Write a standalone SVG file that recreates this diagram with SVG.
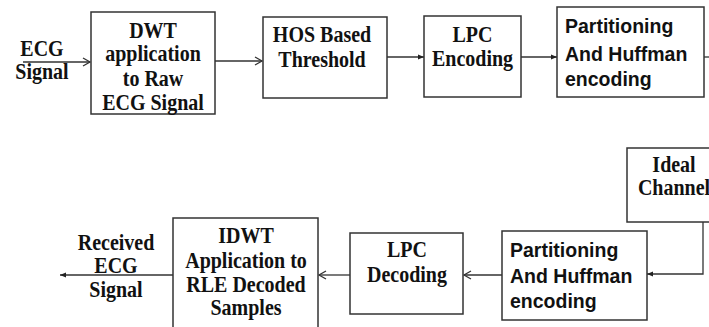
<svg xmlns="http://www.w3.org/2000/svg" width="709" height="327" viewBox="0 0 709 327">
<style>
.box{fill:#fff;stroke:#333;stroke-width:1.5}
.t{font-family:"Liberation Serif","Times New Roman",serif;font-weight:bold;font-size:20px;fill:#111;text-anchor:middle}
.s{font-family:"Liberation Sans",Arial,sans-serif;font-weight:bold;font-size:19.5px;fill:#111}
.c{fill:none;stroke:#333;stroke-width:1.3}
</style>
<defs>
<marker id="open" markerWidth="10" markerHeight="10" refX="8" refY="5" orient="auto" markerUnits="userSpaceOnUse">
<path d="M1,1 L8,5 L1,9" fill="none" stroke="#333" stroke-width="1.3"/>
</marker>
<marker id="fill" markerWidth="8" markerHeight="8" refX="6" refY="4" orient="auto" markerUnits="userSpaceOnUse">
<path d="M0,1.5 L6,4 L0,6.5 z" fill="#222"/>
</marker>
</defs>
<rect width="709" height="327" fill="#fff"/>
<g id="connectors">
<line class="c" x1="23" y1="62" x2="90" y2="62" marker-end="url(#open)"/>
<line class="c" x1="215" y1="61" x2="262" y2="61" marker-end="url(#open)"/>
<line class="c" x1="387" y1="57" x2="424" y2="57" marker-end="url(#fill)"/>
<line class="c" x1="521" y1="57" x2="557" y2="57" marker-end="url(#fill)"/>
<line class="c" x1="704" y1="57" x2="709" y2="57"/>
<polyline class="c" points="703,222 703,274 647,274" marker-end="url(#fill)"/>
<line class="c" x1="502" y1="275" x2="464" y2="275" marker-end="url(#open)"/>
<line class="c" x1="350" y1="275" x2="319" y2="275" marker-end="url(#open)"/>
<line class="c" x1="173" y1="275" x2="60" y2="275" marker-end="url(#fill)"/>
</g>
<g id="input">
<text class="t" transform="translate(42,56) scale(1,1.12)">ECG</text>
<text class="t" transform="translate(42,79) scale(1,1.12)">Signal</text>
</g>
<g id="dwt">
<rect class="box" x="91" y="12" width="124" height="102"/>
<text class="t" transform="translate(153,38) scale(1,1.12)">DWT</text>
<text class="t" transform="translate(153,61) scale(1,1.12)">application</text>
<text class="t" transform="translate(153,86) scale(1,1.12)">to Raw</text>
<text class="t" transform="translate(153,110) scale(1,1.12)">ECG Signal</text>
</g>
<g id="hos">
<rect class="box" x="263" y="17" width="124" height="81"/>
<text class="t" transform="translate(322,42) scale(1,1.12)">HOS Based</text>
<text class="t" transform="translate(322,67) scale(1,1.12)">Threshold</text>
</g>
<g id="lpc-enc">
<rect class="box" x="424" y="16" width="97" height="81"/>
<text class="t" transform="translate(472.5,42) scale(1,1.12)">LPC</text>
<text class="t" transform="translate(472.5,66) scale(1,1.12)">Encoding</text>
</g>
<g id="part-enc">
<rect class="box" x="557" y="7" width="147" height="90"/>
<text class="s" transform="translate(565,33) scale(1,1.07)">Partitioning</text>
<text class="s" transform="translate(565,61) scale(1,1.07)">And Huffman</text>
<text class="s" transform="translate(565,86) scale(1,1.07)">encoding</text>
</g>
<g id="channel">
<rect class="box" x="627" y="148" width="94" height="74"/>
<text class="t" transform="translate(674,172) scale(1,1.12)">Ideal</text>
<text class="t" transform="translate(674,195) scale(1,1.12)">Channel</text>
</g>
<g id="part-dec">
<rect class="box" x="502" y="231" width="145" height="89"/>
<text class="s" transform="translate(510,257) scale(1,1.07)">Partitioning</text>
<text class="s" transform="translate(510,283) scale(1,1.07)">And Huffman</text>
<text class="s" transform="translate(510,308) scale(1,1.07)">encoding</text>
</g>
<g id="lpc-dec">
<rect class="box" x="350" y="233" width="113" height="81"/>
<text class="t" transform="translate(407,257) scale(1,1.12)">LPC</text>
<text class="t" transform="translate(407,282) scale(1,1.12)">Decoding</text>
</g>
<g id="idwt">
<rect class="box" x="173" y="218" width="145" height="115"/>
<text class="t" transform="translate(246,243) scale(1,1.12)">IDWT</text>
<text class="t" transform="translate(246,268) scale(1,1.12)">Application to</text>
<text class="t" transform="translate(246,292) scale(1,1.12)">RLE Decoded</text>
<text class="t" transform="translate(246,315) scale(1,1.12)">Samples</text>
</g>
<g id="output">
<text class="t" transform="translate(116,250) scale(1,1.12)">Received</text>
<text class="t" transform="translate(116,273) scale(1,1.12)">ECG</text>
<text class="t" transform="translate(116,297) scale(1,1.12)">Signal</text>
</g>
</svg>
